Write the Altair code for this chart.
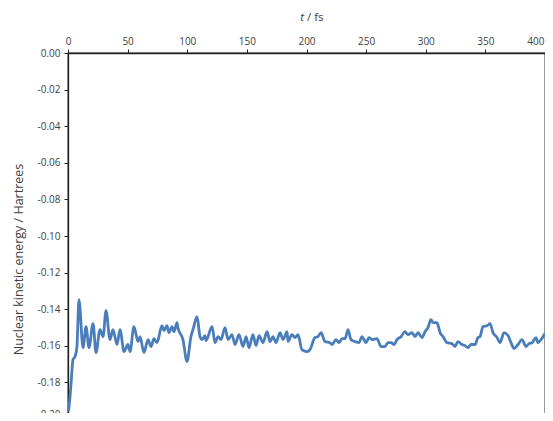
import altair as alt
import pandas as pd

t_fs = [0, 0.8, 2.5, 4.2, 5.9, 7.5, 9.2, 12.6, 15.1, 17.6, 21.0, 23.5, 26.8, 29.4, 31.9,
        35.2, 37.7, 41.1, 43.6, 47.0, 50.3, 52.0, 55.3, 58.7, 60.4, 63.7, 67.1, 69.6,
        72.1, 74.6, 78.8, 80.5, 83.0, 84.7, 87.2, 88.9, 91.4, 92.2, 96.4, 99.8, 103.1,
        104.8, 108.2, 110.7, 112.4, 114.9, 115.7, 120.8, 123.3, 125.8, 128.3, 131.7,
        134.2, 137.5, 140.0, 143.4, 146.8, 149.3, 151.8, 155.1, 157.7, 160.2, 163.5,
        166.9, 169.4, 171.9, 174.4, 177.8, 180.3, 183.7, 184.5, 187.8, 190.4, 192.9,
        196.2, 200.4, 202.9, 207.1, 209.6, 212.2, 215.5, 219.7, 221.4, 224.7, 227.3,
        229.8, 232.3, 234.8, 237.3, 240.7, 244.0, 246.5, 249.9, 252.4, 254.9, 259.1,
        262.5, 265.8, 268.3, 270.9, 273.4, 275.9, 279.3, 282.6, 285.1, 288.5, 291.0,
        293.5, 296.9, 299.4, 301.9, 304.4, 306.1, 309.4, 312.0, 314.5, 317.8, 322.0,
        324.5, 327.0, 330.4, 332.9, 335.4, 338.0, 341.3, 343.8, 345.5, 348.0, 351.4,
        353.9, 356.4, 359.8, 362.3, 365.6, 369.0, 371.5, 374.0, 377.4, 380.7, 384.1,
        386.6, 389.1, 392.5, 394.1, 396.7, 400.0]

ke = [-0.1959, -0.1937, -0.1812, -0.1675, -0.1659, -0.1604, -0.1348, -0.1610, -0.1495,
      -0.1610, -0.1479, -0.1637, -0.1512, -0.1550, -0.1408, -0.1566, -0.1512, -0.1593,
      -0.1512, -0.1632, -0.1593, -0.1632, -0.1495, -0.1577, -0.1550, -0.1637, -0.1566,
      -0.1604, -0.1561, -0.1583, -0.1490, -0.1517, -0.1490, -0.1528, -0.1495, -0.1523,
      -0.1473, -0.1501, -0.1566, -0.1686, -0.1550, -0.1512, -0.1441, -0.1550, -0.1566,
      -0.1544, -0.1572, -0.1495, -0.1583, -0.1550, -0.1566, -0.1501, -0.1566, -0.1539,
      -0.1593, -0.1539, -0.1604, -0.1550, -0.1610, -0.1539, -0.1599, -0.1544, -0.1583,
      -0.1523, -0.1577, -0.1550, -0.1583, -0.1528, -0.1566, -0.1523, -0.1577, -0.1539,
      -0.1555, -0.1539, -0.1621, -0.1632, -0.1621, -0.1555, -0.1550, -0.1528, -0.1577,
      -0.1583, -0.1593, -0.1566, -0.1583, -0.1561, -0.1561, -0.1512, -0.1566, -0.1577,
      -0.1583, -0.1550, -0.1583, -0.1555, -0.1566, -0.1561, -0.1604, -0.1604, -0.1583,
      -0.1583, -0.1593, -0.1566, -0.1550, -0.1523, -0.1539, -0.1528, -0.1550, -0.1528,
      -0.1555, -0.1523, -0.1501, -0.1457, -0.1473, -0.1473, -0.1528, -0.1550, -0.1583,
      -0.1588, -0.1604, -0.1577, -0.1593, -0.1599, -0.1610, -0.1593, -0.1593, -0.1555,
      -0.1550, -0.1495, -0.1490, -0.1479, -0.1528, -0.1555, -0.1583, -0.1528, -0.1544,
      -0.1583, -0.1615, -0.1593, -0.1566, -0.1604, -0.1588, -0.1583, -0.1555, -0.1583,
      -0.1566, -0.1533]

x_ticks = [0, 50, 100, 150, 200, 250, 300, 350, 400]
y_ticks = [0.00, -0.02, -0.04, -0.06, -0.08, -0.10, -0.12, -0.14, -0.16, -0.18, -0.20]

df = pd.DataFrame({"t": t_fs, "ke": ke})
FONT = "Open Sans"

line = alt.Chart(df).mark_line(color="#4A7EBB", strokeWidth=2.8, interpolate="monotone").encode(
    x=alt.X("t:Q", scale=alt.Scale(domain=[0, 400], nice=False),
            axis=alt.Axis(orient="top", values=x_ticks, title=None, format="d",
                          labelPadding=3,
                          labelAlign=alt.ExprRef(expr="datum.value == 400 ? 'right' : 'center'"),
                          labelOffset=alt.ExprRef(expr="datum.value == 400 ? -1 : 0"))),
    y=alt.Y("ke:Q", scale=alt.Scale(domain=[-0.2, 0], nice=False),
            axis=alt.Axis(values=y_ticks, labelPadding=4,
                          labelExpr="replace(format(datum.value, '.2f'), '\u2212', '-')",
                          labelOffset=alt.ExprRef(expr="datum.value <= -0.199 ? -5 : 0"),
                          title="Nuclear kinetic energy / Hartrees",
                          titleX=-50, titleY=206, titleAngle=-90,
                          titleBaseline="middle", titleAlign="center")),
)

lbl = pd.DataFrame({"a": ["t"], "b": ["/ fs"]})
t_text = alt.Chart(lbl).mark_text(fontStyle="italic", align="right", baseline="alphabetic",
                                  font=FONT, fontSize=11.5, color="#404040").encode(
    text="a:N", x=alt.value(236), y=alt.value(-32))
fs_text = alt.Chart(lbl).mark_text(align="left", baseline="alphabetic",
                                   font=FONT, fontSize=11.5, color="#404040").encode(
    text="b:N", x=alt.value(239), y=alt.value(-32))

chart = alt.layer(line, t_text, fs_text).properties(
    width=477, height=366,
    autosize=alt.AutoSizeParams(type="none"),
    padding={"left": 60, "top": 45, "right": 0, "bottom": -6},
).configure_view(stroke="#222222", strokeWidth=1.3).configure_axis(
    grid=False, domainColor="#222222", domainWidth=1.3, tickColor="#222222",
    tickSize=4, labelFont=FONT, labelFontSize=10, labelColor="#404040",
    titleFont=FONT, titleFontSize=12.5, titleColor="#404040", titleFontWeight="normal",
)

chart.save("out.html", embed_options={"renderer": "svg", "actions": False})
